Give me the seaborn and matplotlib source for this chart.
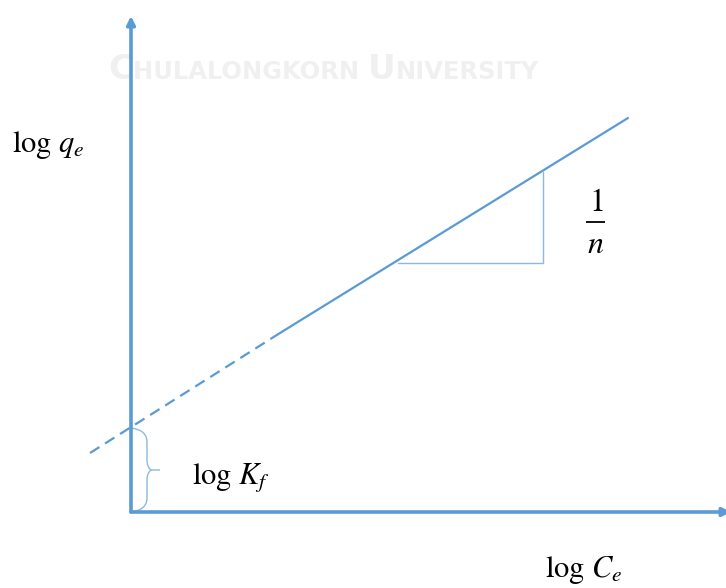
import numpy as np
import pandas as pd
import matplotlib
matplotlib.use("Agg")
import matplotlib.pyplot as plt
from matplotlib.path import Path
from matplotlib.patches import PathPatch
import seaborn as sns

# Freundlich isotherm, linear form: log qe = log Kf + (1/n) log Ce
solid_x = [1.49, 4.97]          # measured range of log Ce
solid_y = [1.79, 3.94]
dashed_x = [-0.41, 1.49]        # extrapolation back to the axis
dashed_y = [0.59, 1.79]
log_kf = 0.84                   # intercept on the log qe axis
tri_x = [2.67, 4.12, 4.12]      # slope triangle corners
tri_y = [2.49, 2.49, 3.40]

BLUE = "#5B9BD5"
PALE = "#8DB8E2"

sns.set_style("white")
plt.rcParams["mathtext.fontset"] = "stix"
plt.rcParams["font.family"] = ["STIXGeneral", "DejaVu Serif"]

fig = plt.figure(figsize=(7.26, 5.88), dpi=100)
ax = fig.add_axes([0, 0, 1, 1])
ax.set_xlim(-1.31, 5.95)
ax.set_ylim(-0.76, 5.12)
ax.axis("off")

# faint watermark in small caps, fitted to a fixed width
pieces = [("C", True), ("HULALONGKORN ", False), ("U", True), ("NIVERSITY", False)]
wm_left, wm_right, wm_base = -0.23, 4.09, 4.33


def draw_watermark(scale):
    objs = []
    x = wm_left
    fig.canvas.draw()
    for s, big in pieces:
        t = ax.text(x, wm_base, s, fontsize=(34 if big else 24) * scale,
                    color="#f0f0f0", fontweight="bold", family="DejaVu Sans",
                    va="baseline", ha="left", zorder=0)
        objs.append(t)
        bb = t.get_window_extent(renderer=fig.canvas.get_renderer())
        x = ax.transData.inverted().transform((bb.x1, 0))[0]
    return objs, x


objs, right = draw_watermark(1.0)
for o in objs:
    o.remove()
draw_watermark((wm_right - wm_left) / (right - wm_left))

# axes with arrow heads
arrow = dict(arrowstyle="-|>", lw=2.6, color=BLUE, mutation_scale=12,
             shrinkA=0, shrinkB=0)
ax.annotate("", xy=(0, 4.96), xytext=(0, 0), arrowprops=arrow,
            annotation_clip=False)
ax.annotate("", xy=(6.0, 0), xytext=(0, 0), arrowprops=arrow,
            annotation_clip=False)

line_df = pd.DataFrame({"x": solid_x, "y": solid_y})
ext_df = pd.DataFrame({"x": dashed_x, "y": dashed_y})
sns.lineplot(data=line_df, x="x", y="y", ax=ax, color=BLUE, lw=1.6,
             estimator=None, sort=False)
sns.lineplot(data=ext_df, x="x", y="y", ax=ax, color=BLUE, lw=1.6,
             estimator=None, sort=False, linestyle=(0, (5, 3)))

tri_df = pd.DataFrame({"x": tri_x, "y": tri_y})
sns.lineplot(data=tri_df, x="x", y="y", ax=ax, color=PALE, lw=1.0,
             estimator=None, sort=False)

# curly brace marking the intercept
h = log_kf
m = h / 2
verts = [
    (0.0, h), (0.16, h - 0.02), (0.16, h - 0.14), (0.16, m + 0.10),
    (0.16, m + 0.03), (0.20, m), (0.29, m),
    (0.20, m), (0.16, m - 0.03), (0.16, m - 0.10),
    (0.16, 0.14), (0.16, 0.02), (0.0, 0.0),
]
codes = [Path.MOVETO, Path.CURVE3, Path.CURVE3, Path.LINETO,
         Path.CURVE3, Path.CURVE3, Path.LINETO,
         Path.MOVETO, Path.CURVE3, Path.CURVE3, Path.LINETO,
         Path.CURVE3, Path.CURVE3]
ax.add_patch(PathPatch(Path(verts, codes), fill=False, ec=PALE, lw=1.0))

# labels
txt = dict(color="black", fontsize=22)
ax.text(-1.19, 3.67, r"$\log\,q_e$", ha="left", va="center", **txt)
ax.text(0.61, 0.34, r"$\log\,K_f$", ha="left", va="center", **txt)
ax.text(4.14, -0.58, r"$\log\,C_e$", ha="left", va="center", **txt)

# slope label 1/n, stacked over a fraction bar
ax.text(4.65, 3.01, r"$1$", ha="center", va="baseline", fontsize=23,
        color="black")
ax.plot([4.55, 4.74], [2.90, 2.90], color="black", lw=1.3,
        solid_capstyle="butt")
ax.text(4.65, 2.59, r"$n$", ha="center", va="baseline", fontsize=23,
        color="black")

fig.savefig("out.png", dpi=100)
